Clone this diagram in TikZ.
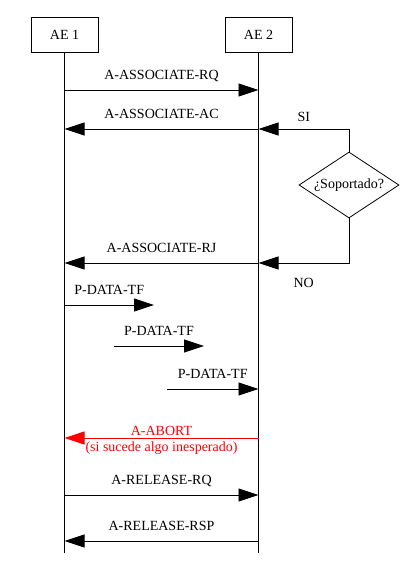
\documentclass[tikz,border=0pt]{standalone}
\usepackage{fontspec}
\setmainfont{Liberation Serif}
\usetikzlibrary{arrows.meta,shapes.geometric}
\tikzset{
  entity/.style={draw, minimum width=67pt, minimum height=35pt, inner sep=0pt},
  msg/.style={-{Triangle[length=20pt,width=13pt]}},
  lbl/.style={text height=10pt, text depth=3pt, inner sep=1pt}
}
\begin{document}
\begin{tikzpicture}[x=1pt,y=-1pt,line width=0.8pt,font=\fontsize{14}{16}\selectfont]
    \useasboundingbox (0,0) rectangle (406,563);
    \node[entity] (AE1) at (64.5,34.5) {AE 1};
    \node[entity] (AE2) at (258.5,34.5) {AE 2};
    \node[draw,diamond,aspect=1.5,minimum width=100pt,minimum height=66pt,inner sep=1pt] (sop) at (349,185) {¿Soportado?};
    % lineas de vida
    \draw (AE1.south) -- (AE1.south |- 0,553);
    \draw (AE2.south) -- (AE2.south |- 0,553);
    % asociacion
    \draw[msg] (AE1.south |- 0,90) -- (AE2.south |- 0,90) node[lbl,midway,above=6pt] {A-ASSOCIATE-RQ};
    \draw[msg] (AE2.south |- 0,129) -- (AE1.south |- 0,129) node[lbl,midway,above=6pt] {A-ASSOCIATE-AC};
    \draw[msg] (sop.north) |- (AE2.south |- 0,129) node[lbl,pos=0.75,above=3pt] {SI};
    \draw[msg] (sop.south) |- (AE2.south |- 0,263) node[lbl,pos=0.75,below=13pt] {NO};
    \draw[msg] (AE2.south |- 0,263) -- (AE1.south |- 0,263) node[lbl,midway,above=6pt] {A-ASSOCIATE-RJ};
    % datos
    \coordinate (d1) at (154,305);
    \coordinate (d2a) at (114,346);
    \coordinate (d2b) at (204,346);
    \coordinate (d3) at (167,389);
    \draw[msg] (AE1.south |- d1) -- (d1) node[lbl,midway,above=6pt] {P-DATA-TF};
    \draw[msg] (d2a) -- (d2b) node[lbl,midway,above=6pt] {P-DATA-TF};
    \draw[msg] (d3) -- (AE2.south |- d3) node[lbl,midway,above=6pt] {P-DATA-TF};
    % aborto y liberacion
    \draw[msg,red] (AE2.south |- 0,438) -- (AE1.south |- 0,438) node[midway,yshift=-2pt,align=center,text=red,inner sep=0pt] {A-ABORT\\(si sucede algo inesperado)};
    \draw[msg] (AE1.south |- 0,495) -- (AE2.south |- 0,495) node[lbl,midway,above=6pt] {A-RELEASE-RQ};
    \draw[msg] (AE2.south |- 0,541) -- (AE1.south |- 0,541) node[lbl,midway,above=6pt] {A-RELEASE-RSP};
\end{tikzpicture}
\end{document}
